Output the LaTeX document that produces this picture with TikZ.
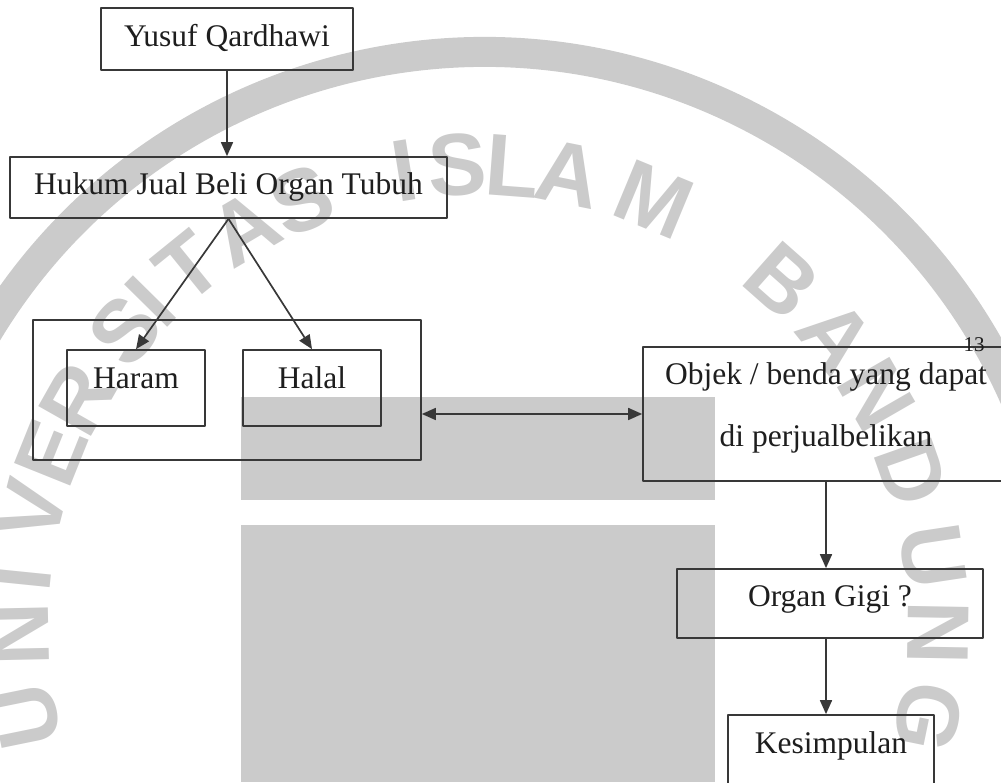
\documentclass[tikz,border=0pt]{standalone}
\usepackage{fontspec}
\setmainfont{Liberation Serif}
\newfontfamily\wmfont{Liberation Sans}
\usetikzlibrary{arrows.meta}
\definecolor{inkline}{HTML}{383838}
\definecolor{inktext}{HTML}{1E1E1E}
\definecolor{wmgray}{HTML}{CBCBCB}
\tikzset{
  box/.style={draw=inkline, line width=1.7pt, inner sep=0pt, text=inktext,
    font=\fontsize{31.5}{38}\selectfont},
  lbl/.style={inner sep=0pt, text=inktext},
  arr/.style={draw=inkline, line width=1.7pt, -{Triangle[length=14pt,width=12pt]}},
  dbl/.style={arr, {Triangle[length=14pt,width=12pt]}-{Triangle[length=14pt,width=12pt]}},
  wmark/.style={inner sep=0pt, text=wmgray, font=\wmfont\bfseries\fontsize{88}{88}\selectfont},
}
\begin{document}
\begin{tikzpicture}[x=1pt,y=1pt,line join=round]
  \useasboundingbox (0,0) rectangle (1001,782);
  \clip (0,0) rectangle (1001,782);
  % watermark
  \coordinate (wmc) at (484,150);
  \draw[draw=wmgray, line width=30pt] (wmc) ++(150:580pt) arc[start angle=150, end angle=18, radius=580pt];
  \foreach \ch/\ang [count=\i] in {U/191.5,N/181.2,I/174.2,V/165.6,E/158.1,R/150.5,S/140.2,
      I/135.4,T/129.0,A/120.5,S/112.5,I/99.2,S/92.5,L/85.7,A/78.6,M/67.5,
      B/48.5,A/38.8,N/30.0,D/19.4,U/8.6,N/-1.0,G/-11.6}
    \node[wmark, rotate=\ang-90] (wm\i) at ([shift={(\ang:460pt)}]478,157) {\ch};
  % grey blocks
  \fill[fill=wmgray] (241,282) rectangle (715,385);
  \fill[fill=wmgray] (241,0) rectangle (715,257);
  % boxes
  \node[box, minimum width=252pt, text height=39pt, text depth=23pt] (yusuf) at (227,743) {Yusuf Qardhawi};
  \node[box, minimum width=437pt, text height=38pt, text depth=23pt] (hukum) at (228.5,594.5) {Hukum Jual Beli Organ Tubuh};
  \node[box, minimum width=388pt, minimum height=140pt] (status) at (227,392) {};
  \node[box, minimum width=138pt, text height=39pt, text depth=37pt] (haram) at (136,394) {Haram};
  \node[box, minimum width=138pt, text height=39pt, text depth=37pt] (halal) at (312,394) {Halal};
  \node[box, minimum width=366pt, minimum height=134pt] (objek) at (826,368) {};
  \node[lbl, anchor=base, font=\fontsize{31.5}{62}\selectfont] (objektxt) at (826,397)
    {\begin{tabular}[t]{@{}c@{}}Objek / benda yang dapat\\ di perjualbelikan\end{tabular}};
  \node[box, minimum width=306pt, text height=38pt, text depth=31pt] (organ) at (830,178.5) {Organ Gigi ?};
  \node[box, minimum width=206pt, text height=38pt, text depth=37pt] (kesimpulan) at (831,29.5) {Kesimpulan};
  \node[lbl, font=\fontsize{21}{24}\selectfont] (hal) at (974,437) {13};
  % arrows
  \draw[arr] (yusuf.south) -- (yusuf.south |- hukum.north);
  \draw[arr] (hukum.south) -- (haram.north);
  \draw[arr] (hukum.south) -- (halal.north);
  \draw[dbl] (status.east |- objek.west) -- (objek.west);
  \draw[arr] (objek.south) -- (objek.south |- organ.north);
  \draw[arr] ([xshift=-4pt]organ.south) -- ([xshift=-4pt]organ.south |- kesimpulan.north);
\end{tikzpicture}
\end{document}
